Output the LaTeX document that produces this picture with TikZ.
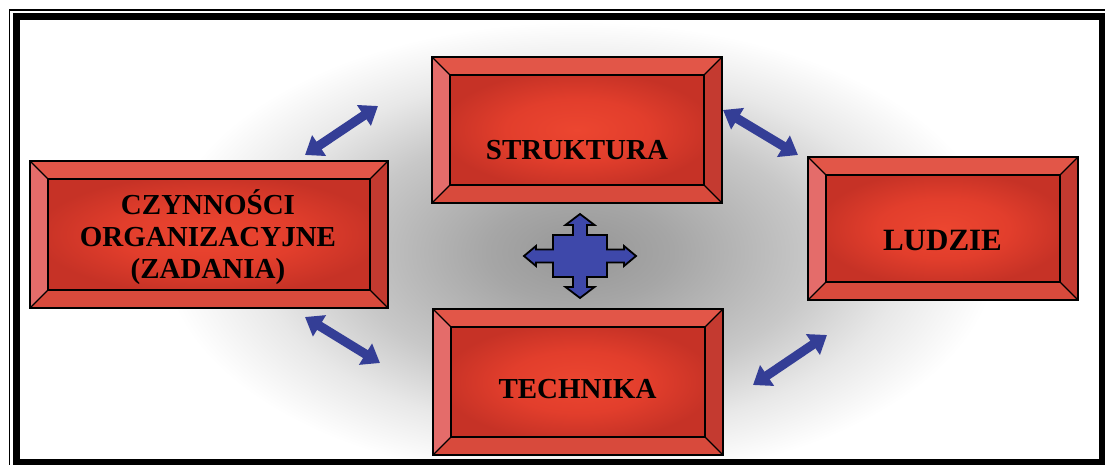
\documentclass[tikz,border=0pt]{standalone}
\usepackage{fontspec}
\setmainfont{Liberation Serif}
\usetikzlibrary{arrows.meta}
\definecolor{bgA}{RGB}{150,150,150}
\definecolor{bgB}{RGB}{166,166,166}
\definecolor{bgC}{RGB}{200,200,200}
\definecolor{bgD}{RGB}{232,232,232}
\definecolor{faceA}{RGB}{236,70,48}
\definecolor{faceB}{RGB}{226,62,44}
\definecolor{faceC}{RGB}{198,50,38}
\definecolor{bevtop}{RGB}{226,86,72}
\definecolor{bevleft}{RGB}{228,108,106}
\definecolor{bevright}{RGB}{196,58,48}
\definecolor{bevbot}{RGB}{216,74,60}
\definecolor{arrowblue}{RGB}{52,62,150}
\definecolor{crossblue}{RGB}{62,72,170}
\pgfdeclareradialshading{bgsh}{\pgfpoint{0bp}{0bp}}{color(0bp)=(bgA); color(4bp)=(bgB); color(10bp)=(bgC); color(14bp)=(bgD); color(18bp)=(white); color(50bp)=(white)}
\pgfdeclareradialshading{facesh}{\pgfpoint{0bp}{0bp}}{color(0bp)=(faceA); color(14bp)=(faceB); color(27bp)=(faceC); color(50bp)=(faceC)}
\tikzset{
  bevbox/.style={rectangle, draw=black, line width=0.9pt, fill=faceC, inner sep=0pt,
    path picture={
      \coordinate (pNW) at (path picture bounding box.north west);
      \coordinate (pSE) at (path picture bounding box.south east);
      \coordinate (pNE) at (pSE |- pNW);
      \coordinate (pSW) at (pNW |- pSE);
      \coordinate (qNW) at ([shift={(18,18)}]pNW);
      \coordinate (qNE) at ([shift={(-18,18)}]pNE);
      \coordinate (qSE) at ([shift={(-18,-18)}]pSE);
      \coordinate (qSW) at ([shift={(18,-18)}]pSW);
      \fill[bevtop] (pNW) -- (pNE) -- (qNE) -- (qNW) -- cycle;
      \fill[bevleft] (pNW) -- (qNW) -- (qSW) -- (pSW) -- cycle;
      \fill[bevright] (pNE) -- (pSE) -- (qSE) -- (qNE) -- cycle;
      \fill[bevbot] (pSW) -- (qSW) -- (qSE) -- (pSE) -- cycle;
      \shade[shading=facesh] (qNW) rectangle (qSE);
      \draw[line width=0.8pt] (qNW) rectangle (qSE);
      \draw[line width=0.6pt] (pNW) -- (qNW) (pNE) -- (qNE) (pSE) -- (qSE) (pSW) -- (qSW);
    }},
  lbl/.style={inner sep=0pt, font=\fontsize{14.5}{16}\selectfont\bfseries, text=black},
  dblarrow/.style={draw=arrowblue, line width=4.6pt,
    {Triangle[length=8.5pt,width=12pt]}-{Triangle[length=8.5pt,width=12pt]}},
  crossst/.style={draw=black, line width=0.9pt, fill=crossblue, line join=miter},
  framethin/.style={draw=black, line width=0.75pt},
  framethick/.style={draw=black, line width=3.5pt}
}
\begin{document}
\begin{tikzpicture}[x=0.5pt,y=-0.5pt]
\useasboundingbox (0,0) rectangle (1105,465);
\fill[white] (0,0) rectangle (1105,465);
\begin{scope}
  \clip (20,20) rectangle (1099,459);
  \shade[shading=bgsh] (580,252) ellipse (580 and 320);
\end{scope}
% frame
\draw[framethin] (9.5,470) -- (9.5,10) -- (1110,10);
\draw[framethick] (16.5,16.5) rectangle (1102.5,462.5);
% boxes
\node[bevbox, minimum width=179pt, minimum height=73.5pt] (czyn) at (209,234.5) {};
\node[bevbox, minimum width=145pt, minimum height=73pt] (strk) at (577,130) {};
\node[bevbox, minimum width=135pt, minimum height=71.5pt] (ludz) at (943,228.5) {};
\node[bevbox, minimum width=145pt, minimum height=73pt] (tech) at (578,382) {};
% labels
\node[lbl, anchor=base] (strkT) at (577,160) {STRUKTURA};
\node[lbl, anchor=base] (techT) at (577.5,399) {TECHNIKA};
\node[lbl, anchor=base, font=\fontsize{15.5}{17}\selectfont\bfseries] (ludzT) at (942.5,250) {LUDZIE};
\node[lbl, align=center] (czynT) at (208,237) {CZYNNOŚCI\\ORGANIZACYJNE\\(ZADANIA)};
% arrows
\coordinate (a1s) at (305,155); \coordinate (a1e) at (378,106);
\coordinate (a2s) at (305,317); \coordinate (a2e) at (380,363);
\coordinate (a3s) at (723,110); \coordinate (a3e) at (798,155);
\coordinate (a4s) at (827,335); \coordinate (a4e) at (753,385);
\draw[dblarrow] (a1s) -- (a1e);
\draw[dblarrow] (a2s) -- (a2e);
\draw[dblarrow] (a3s) -- (a3e);
\draw[dblarrow] (a4s) -- (a4e);
% central cross
\begin{scope}[shift={(580,256)}]
\draw[crossst] (0,-42) -- (14.5,-31) -- (7,-31) -- (7,-21) -- (27,-21) -- (27,-6.5)
  -- (44,-6.5) -- (44,-10) -- (56,0) -- (44,10) -- (44,6.5) -- (27,6.5) -- (27,21)
  -- (7,21) -- (7,31) -- (14.5,31) -- (0,42) -- (-14.5,31) -- (-7,31) -- (-7,21)
  -- (-27,21) -- (-27,6.5) -- (-44,6.5) -- (-44,10) -- (-56,0) -- (-44,-10)
  -- (-44,-6.5) -- (-27,-6.5) -- (-27,-21) -- (-7,-21) -- (-7,-31) -- (-14.5,-31) -- cycle;
\end{scope}
\end{tikzpicture}
\end{document}
